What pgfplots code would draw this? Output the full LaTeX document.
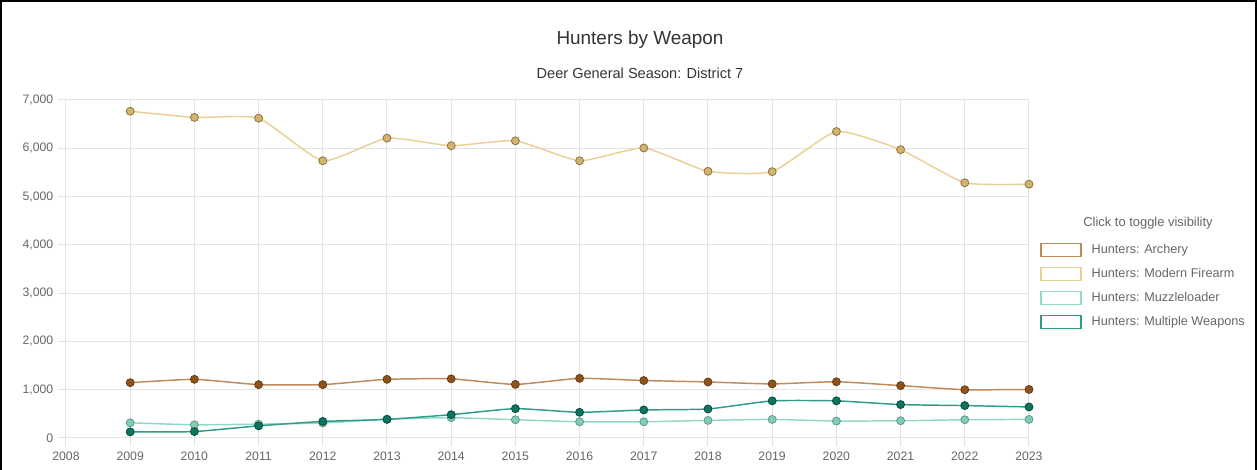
\documentclass[border=0pt]{standalone}
\usepackage{fontspec}
\setmainfont{Liberation Sans}
\usepackage{pgfplots}
\pgfplotsset{compat=1.18}
\definecolor{archL}{HTML}{C08A58}
\definecolor{archF}{HTML}{8E531C}
\definecolor{archD}{HTML}{6A3C12}
\definecolor{fireL}{HTML}{E8D096}
\definecolor{fireF}{HTML}{D2B46C}
\definecolor{fireD}{HTML}{8C7442}
\definecolor{muzL}{HTML}{92D8C8}
\definecolor{muzF}{HTML}{84CAB8}
\definecolor{muzD}{HTML}{5E9C8C}
\definecolor{mulL}{HTML}{2E9C86}
\definecolor{mulF}{HTML}{0B7560}
\definecolor{mulD}{HTML}{064D3E}
\definecolor{tickgray}{HTML}{666666}
\definecolor{gridgray}{HTML}{E4E4E4}
\begin{document}
\begin{tikzpicture}
\useasboundingbox (0,0) rectangle (942.75pt,352.5pt);
\draw[black,line width=1.5pt] (0.75pt,0) -- (0.75pt,351.75pt) -- (942pt,351.75pt) -- (942pt,0);
\node[font=\fontsize{14.2}{17}\selectfont,text=black!80] at (480pt,322.5pt) {Hunters by Weapon};
\node[font=\fontsize{10.9}{13}\selectfont,text=black!80] at (480pt,297.5pt) {Deer General Season: District 7};
\node[font=\fontsize{9.7}{12}\selectfont,text=tickgray] at (861pt,185.25pt) {Click to toggle visibility};
\begin{axis}[
  at={(49.5pt,24pt)}, anchor=south west,
  scale only axis, width=722.25pt, height=253.5pt,
  xmin=2008, xmax=2023, ymin=0, ymax=7000,
  xtick={2008,...,2023}, ytick={0,1000,...,7000},
  grid=major, grid style={gridgray, line width=0.75pt},
  axis line style={draw=none},
  tick pos=left, tick align=outside, major tick length=6pt,
  tick style={gridgray, line width=0.75pt},
  tick label style={font=\fontsize{9.2}{11}\selectfont, text=tickgray},
  /pgf/number format/assume math mode=true,
  xticklabel style={/pgf/number format/1000 sep={}, yshift=-1pt},
  yticklabel style={/pgf/number format/1000 sep={,}},
  clip=false,
  legend style={at={(1,0.592)}, anchor=north west, xshift=8.25pt, draw=none, fill=none,
    inner sep=0pt, font=\fontsize{9.5}{11}\selectfont, text=tickgray,
    nodes={inner sep=0pt, minimum height=18pt}, column sep=7.5pt},
  legend cell align=left,
  legend image code/.code={\draw[#1,line width=1.1pt] (0pt,-4.875pt) rectangle (30pt,4.875pt);},
  every axis plot/.append style={line width=1.1pt, smooth, tension=0.3, mark=*, mark size=3pt},
]
\addplot[archL, mark options={fill=archF, draw=archD, line width=0.6pt}] coordinates {
(2009,1145)(2010,1215)(2011,1105)(2012,1105)(2013,1215)(2014,1225)(2015,1110)(2016,1235)
(2017,1190)(2018,1160)(2019,1120)(2020,1165)(2021,1085)(2022,1000)(2023,1005)};
\addlegendentry{Hunters: Archery}
\addplot[fireL, mark options={fill=fireF, draw=fireD, line width=0.6pt}] coordinates {
(2009,6767)(2010,6639)(2011,6624)(2012,5741)(2013,6210)(2014,6053)(2015,6155)(2016,5741)
(2017,6006)(2018,5523)(2019,5516)(2020,6347)(2021,5971)(2022,5286)(2023,5257)};
\addlegendentry{Hunters: Modern Firearm}
\addplot[muzL, mark options={fill=muzF, draw=muzD, line width=0.6pt}] coordinates {
(2009,315)(2010,273)(2011,287)(2012,310)(2013,390)(2014,420)(2015,378)(2016,336)
(2017,336)(2018,364)(2019,385)(2020,350)(2021,357)(2022,378)(2023,385)};
\addlegendentry{Hunters: Muzzleloader}
\addplot[mulL, mark options={fill=mulF, draw=mulD, line width=0.6pt}] coordinates {
(2009,126)(2010,133)(2011,252)(2012,343)(2013,385)(2014,483)(2015,608)(2016,532)
(2017,581)(2018,601)(2019,769)(2020,769)(2021,692)(2022,671)(2023,643)};
\addlegendentry{Hunters: Multiple Weapons}
\end{axis}
\end{tikzpicture}
\end{document}
